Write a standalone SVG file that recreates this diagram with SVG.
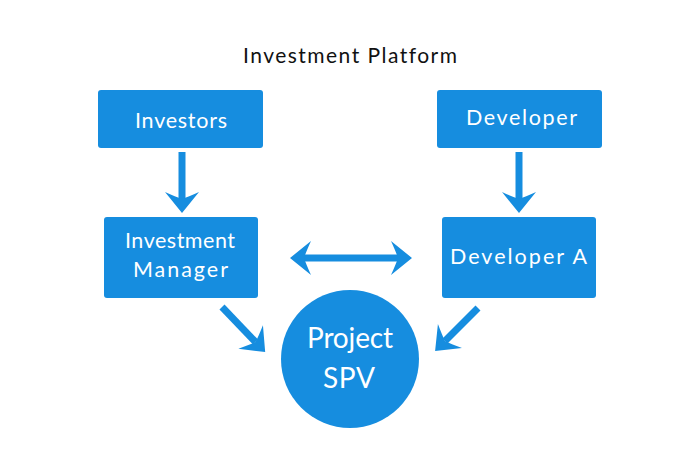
<svg xmlns="http://www.w3.org/2000/svg" width="700" height="449" viewBox="0 0 700 449">
<style>
text{font-variant-ligatures:none;font-feature-settings:"liga" 0}
.box{fill:#168ddf}
.lbl{font-family:"Lato","Liberation Sans",sans-serif;font-size:21.5px;fill:#ffffff;text-anchor:middle}
.big{font-size:28px}
.title{font-family:"Lato","Liberation Sans",sans-serif;font-size:21px;fill:#111111;text-anchor:middle}
.conn{stroke:#168ddf;stroke-width:7;fill:none}
</style>
<defs>
<marker id="ah" markerUnits="userSpaceOnUse" markerWidth="40" markerHeight="40" viewBox="-10 -20 30 40" refX="0" refY="0" orient="auto-start-reverse" overflow="visible">
<path d="M14,0 L-7,-17 Q-2,-6 0,0 Q-2,6 -7,17 Z" fill="#168ddf"/>
</marker>
</defs>
<rect width="700" height="449" fill="#ffffff"/>
<text class="title" x="350" y="63" textLength="214" lengthAdjust="spacing">Investment Platform</text>
<g id="investors"><rect class="box" x="98" y="90" width="165" height="58" rx="3"/><text class="lbl" x="181" y="128" textLength="92" lengthAdjust="spacing">Investors</text></g>
<g id="developer"><rect class="box" x="437" y="90" width="165" height="58" rx="3"/><text class="lbl" x="521.5" y="125" textLength="111" lengthAdjust="spacing">Developer</text></g>
<g id="investment-manager"><rect class="box" x="104" y="217" width="154" height="81" rx="3"/><text class="lbl" x="180" y="248" textLength="110" lengthAdjust="spacing">Investment</text><text class="lbl" x="180.5" y="277" textLength="95" lengthAdjust="spacing">Manager</text></g>
<g id="developer-a"><rect class="box" x="442" y="217" width="154" height="81" rx="3"/><text class="lbl" x="518.5" y="264" textLength="137" lengthAdjust="spacing">Developer A</text></g>
<g id="project-spv"><circle class="box" cx="350" cy="359" r="69"/><text class="lbl big" x="350" y="348" textLength="86" lengthAdjust="spacing">Project</text><text class="lbl big" x="349" y="388" textLength="52" lengthAdjust="spacing">SPV</text></g>
<g id="connectors">
<line class="conn" x1="182" y1="152" x2="182" y2="199" marker-end="url(#ah)"/>
<line class="conn" x1="519" y1="152" x2="519" y2="199" marker-end="url(#ah)"/>
<line class="conn" x1="304" y1="258" x2="398" y2="258" marker-start="url(#ah)" marker-end="url(#ah)"/>
<line class="conn" x1="222" y1="307" x2="255.5" y2="342" marker-end="url(#ah)"/>
<line class="conn" x1="478" y1="308" x2="445" y2="341" marker-end="url(#ah)"/>
</g>
</svg>
